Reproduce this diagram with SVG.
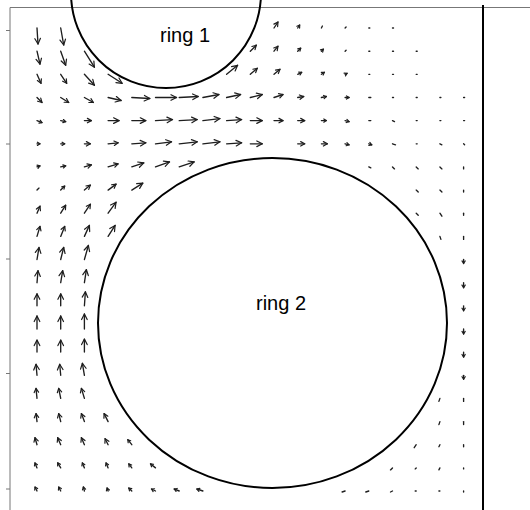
<svg xmlns="http://www.w3.org/2000/svg" width="530" height="510" viewBox="0 0 530 510">
<style>
.frame{stroke:#777;stroke-width:1;fill:none}
.rborder{stroke:#000;stroke-width:2;fill:none}
.ring{stroke:#000;stroke-width:2;fill:none}
.lbl{font-family:"Liberation Sans",Arial,sans-serif;font-size:20px;fill:#000}
#field path{stroke:#1e1e1e;stroke-width:1.35;fill:none;stroke-linecap:round}
#field path.a{marker-end:url(#hA)}
#field path.b{marker-end:url(#hB)}
#field path.c{marker-end:url(#hC)}
.hd{fill:none;stroke:#1e1e1e;stroke-width:1.2;stroke-linecap:round;stroke-linejoin:round}
</style>
<defs>
<marker id="hA" markerUnits="userSpaceOnUse" viewBox="-7 -4 8 8" refX="0" refY="0" markerWidth="8" markerHeight="8" orient="auto" overflow="visible"><path class="hd" d="M-5.5,-2.8L0,0L-5.5,2.8"/></marker>
<marker id="hB" markerUnits="userSpaceOnUse" viewBox="-7 -4 8 8" refX="0" refY="0" markerWidth="8" markerHeight="8" orient="auto" overflow="visible"><path class="hd" d="M-4,-2.2L0,0L-4,2.2"/></marker>
<marker id="hC" markerUnits="userSpaceOnUse" viewBox="-7 -4 8 8" refX="0" refY="0" markerWidth="8" markerHeight="8" orient="auto" overflow="visible"><path class="hd" d="M-2.6,-1.6L0,0L-2.6,1.6"/></marker>
</defs>
<rect width="530" height="510" fill="#fff"/>
<g id="axes">
<path class="frame" d="M10,7.5H530M10,7.5V510M6,30.5H10M6,144H10M6,259H10M6,373.5H10M6,489H10"/>
<path class="rborder" d="M483,5V510"/>
</g>
<g id="ring1">
<circle class="ring" cx="166" cy="-7" r="95"/>
<text class="lbl" x="160" y="41.5">ring 1</text>
</g>
<g id="ring2">
<ellipse class="ring" cx="272.5" cy="323" rx="174.5" ry="165"/>
<text class="lbl" x="256" y="310">ring 2</text>
</g>
<g id="field">
<!-- row 0 -->
<path class="a" d="M37,28l1,16"/><path class="a" d="M60.7,28l3,17"/>
<path class="b" d="M274,28l4,-6"/><path class="c" d="M297.7,28l2,-3"/><path d="M321.4,28l1,-2"/><path d="M345.1,28l1,-1"/><path d="M368.8,28l1,0"/><path d="M392.5,28l1,0"/>
<!-- row 1 -->
<path class="a" d="M37,51.2l3,13"/><path class="a" d="M60.7,51.2l5,14"/><path class="a" d="M84.4,51.2l10,16"/>
<path class="b" d="M250.3,51.2l6,-6"/><path class="b" d="M274,51.2l4,-5"/><path class="c" d="M297.7,51.2l3,-3"/><path class="c" d="M321.4,51.2l2,-2"/><path d="M345.1,51.2l1,-1"/><path d="M368.8,51.2l1,0"/><path d="M392.5,51.2l1,0"/><path d="M416.2,51.2l1,0"/>
<!-- row 2 -->
<path class="b" d="M37,74.3l4,9"/><path class="b" d="M60.7,74.3l6,9"/><path class="a" d="M84.4,74.3l10,11"/><path class="a" d="M108.1,74.3l14,9"/>
<path class="a" d="M226.6,74.3l11,-9"/><path class="b" d="M250.3,74.3l7,-6"/><path class="b" d="M274,74.3l6,-5"/><path class="c" d="M297.7,74.3l4,-2"/><path class="c" d="M321.4,74.3l3,-2"/><path class="c" d="M345.1,74.3l2,-1"/><path d="M368.8,74.3l1,0"/><path d="M392.5,74.3l1,0"/><path d="M416.2,74.3l1,0"/>
<!-- row 3 -->
<path class="b" d="M37,97.5l5,5"/><path class="b" d="M60.7,97.5l8,5"/><path class="b" d="M84.4,97.5l9,5"/><path class="a" d="M108.1,97.5l13,3"/><path class="a" d="M131.8,97.5l18,1"/><path class="a" d="M155.5,97.5l21,0"/><path class="a" d="M179.2,97.5l19,-1"/><path class="a" d="M202.9,97.5l16,-3"/><path class="a" d="M226.6,97.5l14,-3"/><path class="a" d="M250.3,97.5l12,-3"/><path class="b" d="M274,97.5l9,-3"/><path class="b" d="M297.7,97.5l6,-1"/><path class="c" d="M321.4,97.5l5,-1"/><path class="c" d="M345.1,97.5l4,0"/><path d="M368.8,97.5l2,0"/><path d="M392.5,97.5l1,0"/><path d="M416.2,97.5l1,0"/><path d="M439.9,97.5l1,0"/><path d="M463.6,97.5l1,0"/>
<!-- row 4 -->
<path class="c" d="M37,120.6l5,2"/><path class="c" d="M60.7,120.6l5,1"/><path class="b" d="M84.4,120.6l7,0"/><path class="a" d="M108.1,120.6l11,0"/><path class="a" d="M131.8,120.6l14,0"/><path class="a" d="M155.5,120.6l17,-1"/><path class="a" d="M179.2,120.6l18,-1"/><path class="a" d="M202.9,120.6l17,-2"/><path class="a" d="M226.6,120.6l15,-1"/><path class="a" d="M250.3,120.6l12,0"/><path class="b" d="M274,120.6l9,0"/><path class="b" d="M297.7,120.6l7,0"/><path class="c" d="M321.4,120.6l5,0"/><path class="c" d="M345.1,120.6l4,1"/><path d="M368.8,120.6l2,0"/><path d="M392.5,120.6l2,1"/><path d="M416.2,120.6l1,0"/><path d="M439.9,120.6l1,0"/><path d="M463.6,120.6l1,0"/>
<!-- row 5 -->
<path class="c" d="M37,143.8l3,0"/><path class="c" d="M60.7,143.8l4,0"/><path class="b" d="M84.4,143.8l6,0"/><path class="b" d="M108.1,143.8l10,-1"/><path class="a" d="M131.8,143.8l14,-1"/><path class="a" d="M155.5,143.8l16,-2"/><path class="a" d="M179.2,143.8l18,-2"/><path class="a" d="M202.9,143.8l17,-2"/><path class="a" d="M226.6,143.8l15,-1"/><path class="a" d="M250.3,143.8l12,0"/><path class="b" d="M297.7,143.8l7,0"/><path class="b" d="M321.4,143.8l6,0"/><path class="c" d="M345.1,143.8l4,1"/><path class="c" d="M368.8,143.8l3,1"/><path d="M392.5,143.8l3,1"/><path d="M416.2,143.8l1,0"/><path d="M439.9,143.8l2,1"/><path d="M463.6,143.8l1,1"/>
<!-- row 6 -->
<path class="c" d="M37,166.9l3,-1"/><path class="c" d="M60.7,166.9l5,-1"/><path class="b" d="M84.4,166.9l7,-2"/><path class="b" d="M108.1,166.9l10,-3"/><path class="a" d="M131.8,166.9l12,-4"/><path class="a" d="M155.5,166.9l14,-5"/><path class="a" d="M179.2,166.9l15,-5"/><path d="M368.8,166.9l2,1"/><path d="M392.5,166.9l2,2"/><path d="M416.2,166.9l2,2"/><path d="M439.9,166.9l2,2"/><path d="M463.6,166.9l0,2"/>
<!-- row 7 -->
<path d="M37,190.1l2,-2"/><path class="c" d="M60.7,190.1l4,-4"/><path class="b" d="M84.4,190.1l6,-5"/><path class="b" d="M108.1,190.1l8,-6"/><path class="a" d="M131.8,190.1l11,-7"/><path d="M416.2,190.1l2,2"/><path d="M439.9,190.1l2,2"/><path d="M463.6,190.1l0,2"/>
<!-- row 8 -->
<path class="b" d="M37,213.2l3,-7"/><path class="b" d="M60.7,213.2l5,-8"/><path class="b" d="M84.4,213.2l6,-9"/><path class="a" d="M108.1,213.2l8,-11"/><path d="M416.2,213.2l2,2"/><path d="M439.9,213.2l2,3"/><path d="M463.6,213.2l0,2"/>
<!-- row 9 -->
<path class="b" d="M37,236.4l3,-10"/><path class="b" d="M60.7,236.4l4,-10"/><path class="a" d="M84.4,236.4l5,-11"/><path class="a" d="M108.1,236.4l7,-11"/><path d="M439.9,236.4l1,3"/><path d="M463.6,236.4l0,3"/>
<!-- row 10 -->
<path class="a" d="M37,259.5l2,-12"/><path class="a" d="M60.7,259.5l3,-12"/><path class="a" d="M84.4,259.5l4,-14"/><path class="c" d="M463.6,259.5l0,4"/>
<!-- row 11 -->
<path class="a" d="M37,282.7l1,-12"/><path class="a" d="M60.7,282.7l2,-12"/><path class="a" d="M84.4,282.7l2,-13"/><path class="c" d="M463.6,282.7l0,5"/>
<!-- row 12 -->
<path class="a" d="M37,305.8l0,-12"/><path class="a" d="M60.7,305.8l0,-12"/><path class="a" d="M84.4,305.8l1,-14"/><path class="c" d="M463.6,305.8l0,5"/>
<!-- row 13 -->
<path class="a" d="M37,329l0,-13"/><path class="a" d="M60.7,329l0,-13"/><path class="a" d="M84.4,329l0,-15"/><path class="c" d="M463.6,329l0,5"/>
<!-- row 14 -->
<path class="a" d="M37,352.1l0,-12"/><path class="a" d="M60.7,352.1l0,-12"/><path class="a" d="M84.4,352.1l0,-13"/><path class="c" d="M463.6,352.1l0,5"/>
<!-- row 15 -->
<path class="a" d="M37,375.3l-1,-11"/><path class="a" d="M60.7,375.3l-1,-11"/><path class="a" d="M84.4,375.3l-2,-12"/><path class="c" d="M463.6,375.3l0,4"/>
<!-- row 16 -->
<path class="b" d="M37,398.4l-1,-10"/><path class="b" d="M60.7,398.4l-2,-10"/><path class="b" d="M84.4,398.4l-3,-10"/><path d="M439.9,398.4l-1,3"/><path d="M463.6,398.4l0,3"/>
<!-- row 17 -->
<path class="b" d="M37,421.6l-1,-8"/><path class="b" d="M60.7,421.6l-2,-8"/><path class="b" d="M84.4,421.6l-3,-8"/><path class="b" d="M108.1,421.6l-4,-8"/><path d="M439.9,421.6l-1,3"/><path d="M463.6,421.6l0,3"/>
<!-- row 18 -->
<path class="b" d="M37,444.7l-2,-7"/><path class="b" d="M60.7,444.7l-3,-7"/><path class="b" d="M84.4,444.7l-3,-7"/><path class="b" d="M108.1,444.7l-3,-6"/><path class="c" d="M131.8,444.7l-4,-5"/><path d="M416.2,444.7l-2,3"/><path d="M439.9,444.7l-1,2"/><path d="M463.6,444.7l0,2"/>
<!-- row 19 -->
<path class="c" d="M37,467.9l-2,-5"/><path class="c" d="M60.7,467.9l-3,-5"/><path class="c" d="M84.4,467.9l-2,-5"/><path class="c" d="M108.1,467.9l-2,-5"/><path class="c" d="M131.8,467.9l-3,-4"/><path class="c" d="M155.5,467.9l-5,-4"/><path d="M392.5,467.9l-2,2"/><path d="M416.2,467.9l-1,1"/><path d="M439.9,467.9l-1,2"/><path d="M463.6,467.9l0,1"/>
<!-- row 20 -->
<path class="c" d="M37,491l-2,-4"/><path class="c" d="M60.7,491l-2,-4"/><path class="c" d="M84.4,491l-1,-4"/><path class="c" d="M108.1,491l-1,-3"/><path class="c" d="M131.8,491l-3,-3"/><path class="c" d="M155.5,491l-4,-2"/><path class="c" d="M179.2,491l-5,-2"/><path class="c" d="M202.9,491l-6,-2"/><path d="M345.1,491l-3,1"/><path d="M368.8,491l-3,1"/><path d="M392.5,491l-2,1"/><path d="M416.2,491l-1,0"/><path d="M439.9,491l-1,0"/><path d="M463.6,491l0,1"/>
</g>
</svg>
